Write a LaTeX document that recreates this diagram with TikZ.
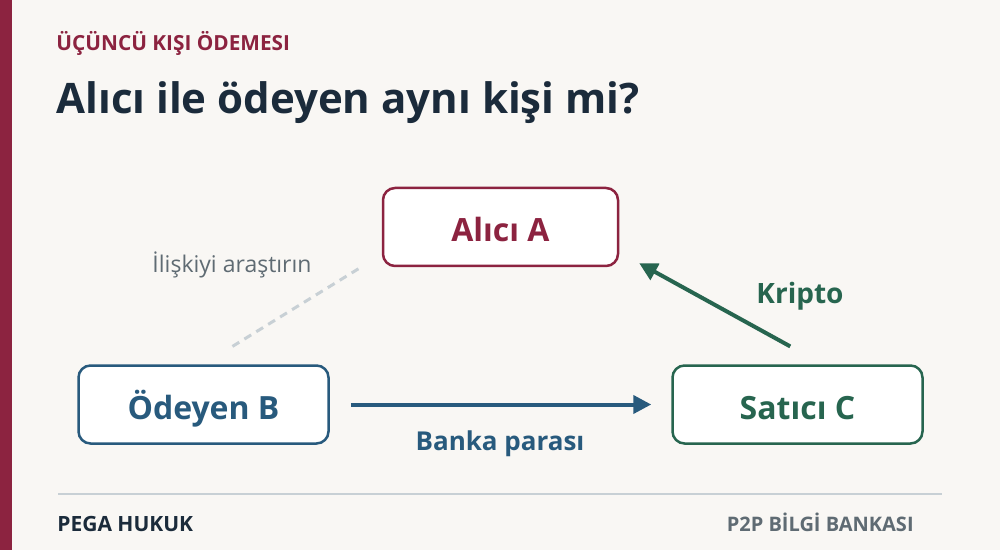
\documentclass[tikz,border=0pt]{standalone}
\usepackage{fontspec}
\setmainfont{Open Sans}
\usetikzlibrary{positioning,arrows.meta}

\definecolor{crimson}{HTML}{8C2340}
\definecolor{ink}{HTML}{1B2B3B}
\definecolor{bankblue}{HTML}{285A7D}
\definecolor{cryptogreen}{HTML}{27654F}
\definecolor{muted}{HTML}{5F6B73}
\definecolor{rule}{HTML}{C8D0D5}
\definecolor{paper}{HTML}{F9F7F4}

\begin{document}
\begin{tikzpicture}[x=0.5pt, y=-0.5pt,
	party/.style={draw, line width=1.25pt, rounded corners=6pt, fill=white,
		minimum width=125pt, minimum height=39pt, text height=15pt, text depth=0pt,
		font=\fontsize{16}{19}\selectfont\bfseries},
	flow/.style={line width=2pt, -{Triangle[length=9pt, width=9pt]}},
	caption/.style={inner sep=0pt}]
	\useasboundingbox (0,0) rectangle (1000,550);
	\fill [paper] (0,0) rectangle (1000,550);
	\fill [crimson] (0,0) rectangle (12,550);
	\node [caption, anchor=base west, text=crimson, font=\fontsize{10.4}{12}\selectfont\bfseries] (kicker) at (56,51) {ÜÇÜNCÜ KIŞI ÖDEMESI};
	\node [caption, anchor=base west, text=ink, font=\fontsize{21}{26}\selectfont\bfseries] (title) at (56,114) {Alıcı ile ödeyen aynı kişi mi?};
	\node [party, draw=crimson, text=crimson, minimum width=117.5pt] (A) at (500.5,227) {Alıcı A};
	\node [party, draw=bankblue, text=bankblue] (B) at (203.5,404.5) {Ödeyen B};
	\node [party, draw=cryptogreen, text=cryptogreen] (C) at (797.5,404.5) {Satıcı C};
	\draw [rule, line width=1.5pt, dash pattern=on 4pt off 3pt, shorten <=17pt, shorten >=13.5pt] (B.north) to (A.193);
	\draw [flow, bankblue, shorten <=10.5pt, shorten >=10pt] (B) to (C);
	\draw [flow, cryptogreen, shorten <=18.5pt, shorten >=11.4pt] (C.58) to (A.-12);
	\node [caption, text=muted, font=\fontsize{11.5}{14}\selectfont] (hint) at (232,265) {İlişkiyi araştırın};
	\node [caption, text=cryptogreen, font=\fontsize{14}{17}\selectfont\bfseries] (crypto) at (800,296) {Kripto};
	\node [caption, text=bankblue, font=\fontsize{13}{16}\selectfont\bfseries] (bank) at (500,444) {Banka parası};
	\draw [rule, line width=1pt] (58,494) -- (942,494);
	\node [caption, anchor=base west, text=ink, font=\fontsize{10.5}{12}\selectfont\bfseries] (brand) at (57,531) {PEGA HUKUK};
	\node [caption, anchor=base east, text=muted, font=\fontsize{10}{12}\selectfont\bfseries] (series) at (914,531) {P2P BİLGİ BANKASI};
\end{tikzpicture}
\end{document}
